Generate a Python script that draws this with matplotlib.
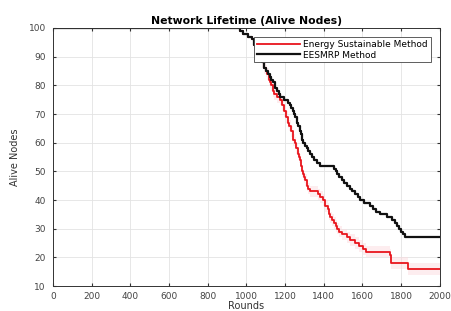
import matplotlib
matplotlib.use("Agg")
import matplotlib.pyplot as plt
import numpy as np

black_rounds = [0, 965, 985, 1008, 1028, 1040, 1050, 1060, 1070, 1080, 1090, 1100, 1111, 1120,
                1130, 1140, 1150, 1160, 1168, 1175, 1195, 1214, 1225, 1232, 1240, 1247, 1253,
                1260, 1268, 1275, 1282, 1288, 1295, 1302, 1312, 1320, 1330, 1340, 1352, 1365,
                1380, 1455, 1462, 1470, 1480, 1495, 1505, 1520, 1535, 1548, 1560, 1575, 1590,
                1610, 1640, 1655, 1670, 1690, 1726, 1755, 1770, 1780, 1790, 1800, 1810, 1819, 2000]
black_alive = [100, 99, 98, 97, 96, 94, 92, 90, 89, 88, 86, 85, 84, 83,
               82, 81, 79, 78, 77, 76, 75, 74, 73, 72, 71, 70, 69,
               67, 66, 64, 63, 61, 60, 59, 58, 57, 56, 55, 54, 53,
               52, 51, 50, 49, 48, 47, 46, 45, 44, 43, 42, 41, 40,
               39, 38, 37, 36, 35, 34, 33, 32, 31, 30, 29, 28, 27, 27]

red_rounds = [0, 965, 985, 1008, 1028, 1040, 1050, 1060, 1070, 1080, 1090, 1100, 1108, 1115,
              1121, 1130, 1137, 1145, 1160, 1173, 1185, 1195, 1205, 1214, 1222, 1230, 1240,
              1250, 1258, 1265, 1270, 1276, 1282, 1287, 1292, 1297, 1305, 1312, 1320, 1328,
              1369, 1380, 1395, 1406, 1420, 1428, 1432, 1445, 1455, 1462, 1470, 1480, 1495,
              1519, 1535, 1560, 1580, 1603, 1620, 1741, 1750, 1835, 2000]
red_alive = [100, 99, 98, 97, 96, 94, 92, 90, 89, 88, 86, 85, 84, 82,
             81, 80, 78, 77, 76, 75, 73, 71, 69, 67, 66, 64, 61,
             60, 58, 56, 55, 54, 52, 50, 49, 48, 47, 45, 44, 43,
             42, 41, 40, 38, 37, 35, 34, 33, 32, 31, 30, 29, 28,
             27, 26, 25, 24, 23, 22, 21, 18, 16, 16]

labels = ["Energy Sustainable Method", "EESMRP Method"]
xticks = list(range(0, 2001, 200))
yticks = list(range(10, 101, 10))

fig = plt.figure(figsize=(4.52, 3.11), dpi=100)
ax = fig.add_axes([0.117, 0.080, 0.856, 0.830])

rx = np.array(red_rounds, dtype=float)
r = np.array(red_alive, dtype=float)
ax.fill_between(rx, r - 2, r + 2, where=rx >= 1080, step="post", color="#fbd9dd",
                alpha=0.45, lw=0)
ax.plot(red_rounds, red_alive, drawstyle="steps-post", color="#e8141c", lw=1.3, label=labels[0])
ax.plot(black_rounds, black_alive, drawstyle="steps-post", color="#111111", lw=1.6, label=labels[1])

ax.set_xlim(0, 2000)
ax.set_ylim(10, 100)
ax.set_xticks(xticks)
ax.set_yticks(yticks)
ax.grid(True, color="#e3e3e3", lw=0.6)
ax.set_axisbelow(True)
for s in ax.spines.values():
    s.set_color("#333333")
    s.set_linewidth(0.7)
ax.tick_params(labelsize=6.5, colors="#333333", length=2, direction="in", top=True, right=True,
               labelcolor="#444444")
ax.tick_params(axis="y", pad=5)
ax.tick_params(axis="x", pad=4)

ax.set_title("Network Lifetime (Alive Nodes)", fontsize=7.8, fontweight="bold", pad=3)
ax.set_ylabel("Alive Nodes", fontsize=7, color="#333333", labelpad=6)
ax.set_xlabel("Rounds", fontsize=7, color="#333333", labelpad=0)

leg = ax.legend(loc="upper right", bbox_to_anchor=(0.976, 0.965), fontsize=6.5, frameon=True,
                fancybox=False, edgecolor="#444444", framealpha=1, borderpad=0.3,
                borderaxespad=0, handlelength=4.8, handletextpad=0.3, labelspacing=0.2)
leg.get_frame().set_linewidth(0.6)

fig.savefig("out.png", dpi=100)
